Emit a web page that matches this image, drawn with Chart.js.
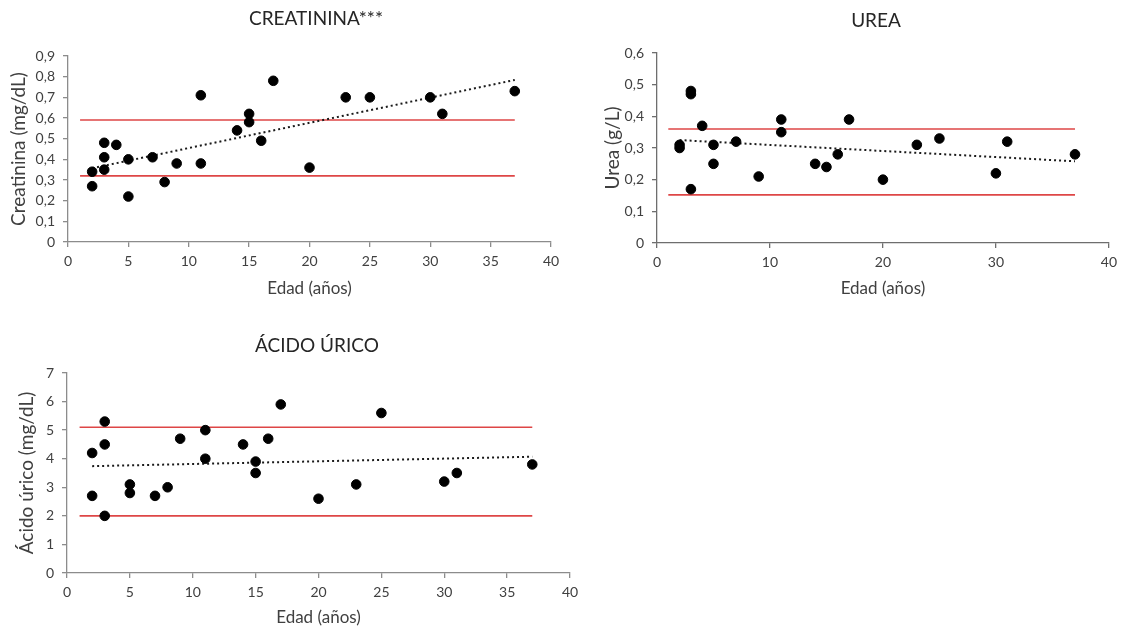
<!DOCTYPE html>
<html>
<head>
<meta charset="utf-8">
<script src="https://cdn.jsdelivr.net/npm/chart.js@4.4.1/dist/chart.umd.min.js"></script>
<style>
  html, body { margin: 0; padding: 0; background: #ffffff; }
  body { width: 1123px; height: 630px; position: relative; overflow: hidden; }
  .box { position: absolute; }
</style>
</head>
<body>
<div class="box" style="left:0px;top:0px;width:580px;height:310px;"><canvas id="c1"></canvas></div>
<div class="box" style="left:590px;top:0px;width:533px;height:310px;"><canvas id="c2"></canvas></div>
<div class="box" style="left:0px;top:320px;width:590px;height:310px;"><canvas id="c3"></canvas></div>
<script>
// ---------- Data ----------
const titles = ['CREATININA***', 'UREA', 'ÁCIDO ÚRICO'];
const xTitle = 'Edad (años)';
const yTitles = ['Creatinina (mg/dL)', 'Urea (g/L)', 'Ácido úrico (mg/dL)'];

const creatAge = [2, 2, 3, 3, 3, 4, 5, 5, 7, 8, 9, 11, 11, 14, 15, 15, 16, 17, 20, 23, 25, 30, 31, 37];
const creatVal = [0.34, 0.27, 0.48, 0.41, 0.35, 0.47, 0.40, 0.22, 0.41, 0.29, 0.38, 0.71, 0.38, 0.54, 0.62, 0.58, 0.49, 0.78, 0.36, 0.70, 0.70, 0.70, 0.62, 0.73];
const creatRefHigh = 0.59;
const creatRefLow = 0.32;
const creatTrend = [0.357, 0.784];

const ureaAge = [2, 2, 3, 3, 3, 4, 5, 5, 7, 9, 11, 11, 14, 15, 16, 17, 20, 23, 25, 30, 31, 37];
const ureaVal = [0.31, 0.30, 0.48, 0.47, 0.17, 0.37, 0.31, 0.25, 0.32, 0.21, 0.39, 0.35, 0.25, 0.24, 0.28, 0.39, 0.20, 0.31, 0.33, 0.22, 0.32, 0.28];
const ureaRefHigh = 0.36;
const ureaRefLow = 0.152;
const ureaTrend = [0.325, 0.258];

const uricAge = [2, 2, 3, 3, 3, 5, 5, 7, 8, 9, 11, 11, 14, 15, 15, 16, 17, 20, 23, 25, 30, 31, 37];
const uricVal = [4.2, 2.7, 5.3, 4.5, 2.0, 3.1, 2.8, 2.7, 3.0, 4.7, 5.0, 4.0, 4.5, 3.9, 3.5, 4.7, 5.9, 2.6, 3.1, 5.6, 3.2, 3.5, 3.8];
const uricRefHigh = 5.1;
const uricRefLow = 2.0;
const uricTrend = [3.74, 4.07];

const refX = [1, 37];     // extent of reference lines (years)
const trendX = [2, 37];   // extent of trend lines (years)

const xTicks1 = [0, 5, 10, 15, 20, 25, 30, 35, 40];
const xTicks2 = [0, 10, 20, 30, 40];
const yTicks1 = [0, 0.1, 0.2, 0.3, 0.4, 0.5, 0.6, 0.7, 0.8, 0.9];
const yTicks2 = [0, 0.1, 0.2, 0.3, 0.4, 0.5, 0.6];
const yTicks3 = [0, 1, 2, 3, 4, 5, 6, 7];

// ---------- Helpers ----------
const FONT = 'Lato, "Open Sans", sans-serif';
const TXT = '#404040';
const RED = 'rgb(222,70,70)';

function pts(xs, ys) { return xs.map((x, i) => ({ x: x, y: ys[i] })); }
function fmt(v) { return v === 0 ? '0' : String(Math.round(v * 10) / 10).replace('.', ','); }

const titlePlugin = {
  id: 'fixedTitle',
  afterDraw(chart, args, opts) {
    const ctx = chart.ctx;
    ctx.save();
    ctx.font = '19px ' + FONT;
    ctx.fillStyle = '#262626';
    ctx.textAlign = 'center';
    ctx.textBaseline = 'middle';
    ctx.fillText(opts.text, opts.x, opts.y);
    ctx.restore();
  }
};

function makeChart(id, cfg) {
  const datasets = [
    { type: 'line', data: pts(refX, [cfg.refHigh, cfg.refHigh]), borderColor: RED, borderWidth: 1.6, pointRadius: 0, fill: false, order: 3 },
    { type: 'line', data: pts(refX, [cfg.refLow, cfg.refLow]), borderColor: RED, borderWidth: 1.6, pointRadius: 0, fill: false, order: 3 },
    { type: 'line', data: pts(trendX, cfg.trend), borderColor: '#1a1a1a', borderWidth: 2, borderDash: [2, 3], pointRadius: 0, fill: false, order: 2 },
    { type: 'scatter', data: pts(cfg.ages, cfg.vals), backgroundColor: '#000000', borderColor: '#000000', pointRadius: 4.8, pointHoverRadius: 4.8, order: 1 }
  ];
  return new Chart(document.getElementById(id), {
    type: 'scatter',
    data: { datasets: datasets },
    plugins: [titlePlugin],
    options: {
      responsive: true,
      maintainAspectRatio: false,
      animation: false,
      events: [],
      layout: { padding: cfg.padding },
      plugins: {
        legend: { display: false },
        tooltip: { enabled: false },
        fixedTitle: { text: cfg.title, x: cfg.titleX, y: cfg.titleY }
      },
      scales: {
        x: {
          type: 'linear',
          min: 0, max: 40,
          afterBuildTicks: (s) => { s.ticks = cfg.xTicks.map(v => ({ value: v })); },
          afterFit: (s) => { s.height = cfg.xHeight; },
          border: { display: true, color: cfg.axisColor, width: 1.3 },
          grid: { display: true, drawOnChartArea: false, drawTicks: true, tickLength: 5, color: cfg.axisColor, lineWidth: 1.3 },
          ticks: { color: TXT, font: { family: FONT, size: 14 }, padding: 6, maxRotation: 0, callback: (v) => String(v) },
          title: { display: true, text: xTitle, color: TXT, font: { family: FONT, size: 17 }, padding: { top: 0, bottom: 1 } }
        },
        y: {
          type: 'linear',
          min: cfg.yTicks[0], max: cfg.yTicks[cfg.yTicks.length - 1],
          afterBuildTicks: (s) => { s.ticks = cfg.yTicks.map(v => ({ value: v })); },
          afterFit: (s) => { s.width = cfg.yWidth; },
          border: { display: true, color: cfg.axisColor, width: 1.3 },
          grid: { display: true, drawOnChartArea: false, drawTicks: true, tickLength: 5, color: cfg.axisColor, lineWidth: 1.3 },
          ticks: { color: TXT, font: { family: FONT, size: 14 }, padding: 8, callback: (v) => fmt(v) },
          title: { display: true, text: cfg.yTitle, color: TXT, font: { family: FONT, size: 19 }, padding: { top: cfg.yTitlePad, bottom: 0 } }
        }
      }
    }
  });
}

makeChart('c1', {
  title: titles[0], titleX: 316, titleY: 19,
  yTitle: yTitles[0], yTitlePad: 7,
  ages: creatAge, vals: creatVal, refHigh: creatRefHigh, refLow: creatRefLow, trend: creatTrend,
  xTicks: xTicks1, yTicks: yTicks1,
  padding: { left: 0, right: 29, top: 56, bottom: 10 },
  yWidth: 68, xHeight: 58, axisColor: '#8c8c8c'
});
makeChart('c2', {
  title: titles[1], titleX: 286, titleY: 21,
  yTitle: yTitles[1], yTitlePad: 11,
  ages: ureaAge, vals: ureaVal, refHigh: ureaRefHigh, refLow: ureaRefLow, trend: ureaTrend,
  xTicks: xTicks2, yTicks: yTicks2,
  padding: { left: 0, right: 10, top: 53, bottom: 10 },
  yWidth: 67, xHeight: 57, axisColor: '#6e6e6e'
});
makeChart('c3', {
  title: titles[2], titleX: 317, titleY: 26,
  yTitle: yTitles[2], yTitlePad: 15,
  ages: uricAge, vals: uricVal, refHigh: uricRefHigh, refLow: uricRefLow, trend: uricTrend,
  xTicks: xTicks1, yTicks: yTicks3,
  padding: { left: 0, right: 20, top: 53, bottom: 1 },
  yWidth: 67, xHeight: 56, axisColor: '#8c8c8c'
});
</script>
</body>
</html>
